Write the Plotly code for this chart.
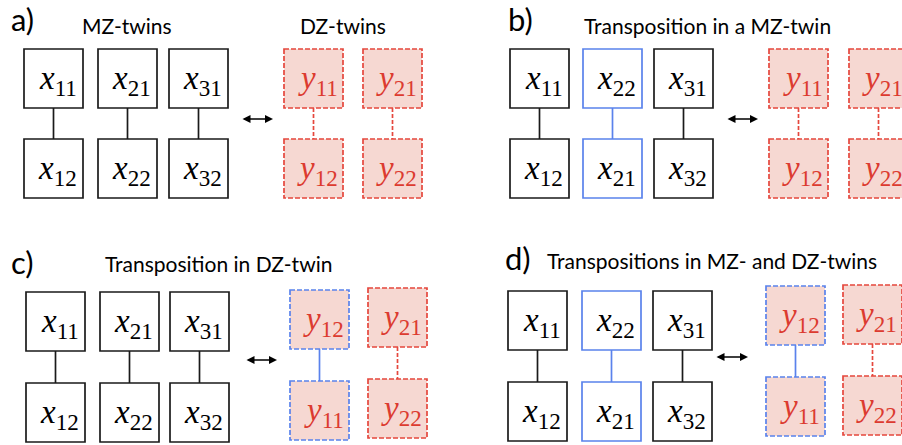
import plotly.graph_objects as go

W, H = 902, 445

# Panel content
panel_tags = ["a)", "b)", "c)", "d)"]
panel_titles = ["MZ-twins", "Transposition in a MZ-twin",
                "Transposition in DZ-twin", "Transpositions in MZ- and DZ-twins"]

# MZ pairs (top, bottom) per panel
mz_pairs = [
    [("x", "11", "x", "12"), ("x", "21", "x", "22"), ("x", "31", "x", "32")],
    [("x", "11", "x", "12"), ("x", "22", "x", "21"), ("x", "31", "x", "32")],
    [("x", "11", "x", "12"), ("x", "21", "x", "22"), ("x", "31", "x", "32")],
    [("x", "11", "x", "12"), ("x", "22", "x", "21"), ("x", "31", "x", "32")],
]
mz_swapped = [[False, False, False], [False, True, False],
              [False, False, False], [False, True, False]]

# DZ pairs (top, bottom) per panel
dz_pairs = [
    [("y", "11", "y", "12"), ("y", "21", "y", "22")],
    [("y", "11", "y", "12"), ("y", "21", "y", "22")],
    [("y", "12", "y", "11"), ("y", "21", "y", "22")],
    [("y", "12", "y", "11"), ("y", "21", "y", "22")],
]
dz_swapped = [[False, False], [False, False], [True, False], [True, False]]

# Layout geometry (pixels, y downward)
BOX = 59
mz_left = [[24, 98, 169], [510, 583, 654], [26, 100, 170], [508, 582, 653]]
mz_top = [(49, 139), (49, 139), (292, 383), (291, 382)]
dz_left = [[284, 363], [769, 849], [290, 368], [766, 843]]
dz_top = [[(49, 139), (49, 139)], [(49, 139), (49, 139)],
          [(290, 381), (288, 379)], [(286, 377), (285, 376)]]
arrows = [(241, 273, 119), (726, 758, 119), (245, 277, 360), (715, 748, 357)]
tag_pos = [(9, 19), (506, 19), (9, 262), (503, 258)]
title_pos = [(127, 25), (707, 25), (218, 263), (712, 260)]
extra_titles = [("DZ-twins", 343, 25)]

BLACK = "#1a1a1a"
BLUE = "#5a82ec"
RED = "#e5473d"
RED_TEXT = "#dc3b30"
RED_FILL = "#f6d8d2"

MATH_FONT = "Liberation Serif"
SANS = "Lato, sans-serif"

shapes = []
annotations = []


def box(x0, y0, line_color, dash, fill):
    shapes.append(dict(type="rect", xref="x", yref="y",
                       x0=x0, x1=x0 + BOX, y0=y0, y1=y0 + BOX,
                       line=dict(color=line_color, width=1.7, dash=dash),
                       fillcolor=fill, layer="above"))


def link(xc, y0, y1, color, dash):
    shapes.append(dict(type="line", xref="x", yref="y",
                       x0=xc, x1=xc, y0=y0, y1=y1,
                       line=dict(color=color, width=1.7, dash=dash)))


def label(sym, sub, xc, yc, color):
    annotations.append(dict(x=xc + 4, y=yc + 2, xref="x", yref="y",
                            text=f"<i>{sym}</i><sub>{sub}</sub>",
                            showarrow=False,
                            font=dict(family=MATH_FONT, size=33, color=color),
                            xanchor="center", yanchor="middle"))


for p in range(4):
    # MZ columns
    t0, t1 = mz_top[p]
    for c, (s1, n1, s2, n2) in enumerate(mz_pairs[p]):
        x0 = mz_left[p][c]
        col = BLUE if mz_swapped[p][c] else BLACK
        link(x0 + BOX / 2, t0 + BOX, t1, col, "solid")
        box(x0, t0, col, "solid", "white")
        box(x0, t1, col, "solid", "white")
        label(s1, n1, x0 + BOX / 2, t0 + BOX / 2, "black")
        label(s2, n2, x0 + BOX / 2, t1 + BOX / 2, "black")
    # DZ columns
    for c, (s1, n1, s2, n2) in enumerate(dz_pairs[p]):
        x0 = dz_left[p][c]
        d0, d1 = dz_top[p][c]
        if dz_swapped[p][c]:
            link(x0 + BOX / 2, d0 + BOX, d1, BLUE, "solid")
            edge = BLUE
        else:
            link(x0 + BOX / 2, d0 + BOX, d1, RED, "4px,2px")
            edge = RED
        box(x0, d0, edge, "5px,2px", RED_FILL)
        box(x0, d1, edge, "5px,2px", RED_FILL)
        label(s1, n1, x0 + BOX / 2, d0 + BOX / 2, RED_TEXT)
        label(s2, n2, x0 + BOX / 2, d1 + BOX / 2, RED_TEXT)
    # double-headed arrow
    ax0, ax1, ay = arrows[p]
    annotations.append(dict(x=ax1, y=ay, ax=ax0, ay=ay, xref="x", yref="y",
                            axref="x", ayref="y", text="", showarrow=True,
                            arrowhead=2, startarrowhead=2, arrowside="end+start",
                            arrowsize=1, startarrowsize=1, arrowwidth=1.6,
                            arrowcolor="black"))
    # panel tag and title
    tx, ty = tag_pos[p]
    annotations.append(dict(x=tx, y=ty, xref="x", yref="y", text=panel_tags[p],
                            showarrow=False, xanchor="left", yanchor="middle",
                            font=dict(family=SANS, size=31, color="black")))
    hx, hy = title_pos[p]
    annotations.append(dict(x=hx, y=hy, xref="x", yref="y", text=panel_titles[p],
                            showarrow=False, xanchor="center", yanchor="middle",
                            font=dict(family=SANS, size=21, color="black")))

for txt, hx, hy in extra_titles:
    annotations.append(dict(x=hx, y=hy, xref="x", yref="y", text=txt,
                            showarrow=False, xanchor="center", yanchor="middle",
                            font=dict(family=SANS, size=21, color="black")))

fig = go.Figure()
fig.update_layout(
    width=W, height=H,
    margin=dict(l=0, r=0, t=0, b=0),
    paper_bgcolor="white", plot_bgcolor="white",
    xaxis=dict(range=[0, W], visible=False, fixedrange=True),
    yaxis=dict(range=[H, 0], visible=False, fixedrange=True),
    shapes=shapes, annotations=annotations,
    showlegend=False,
)

fig.write_html("out.html")
